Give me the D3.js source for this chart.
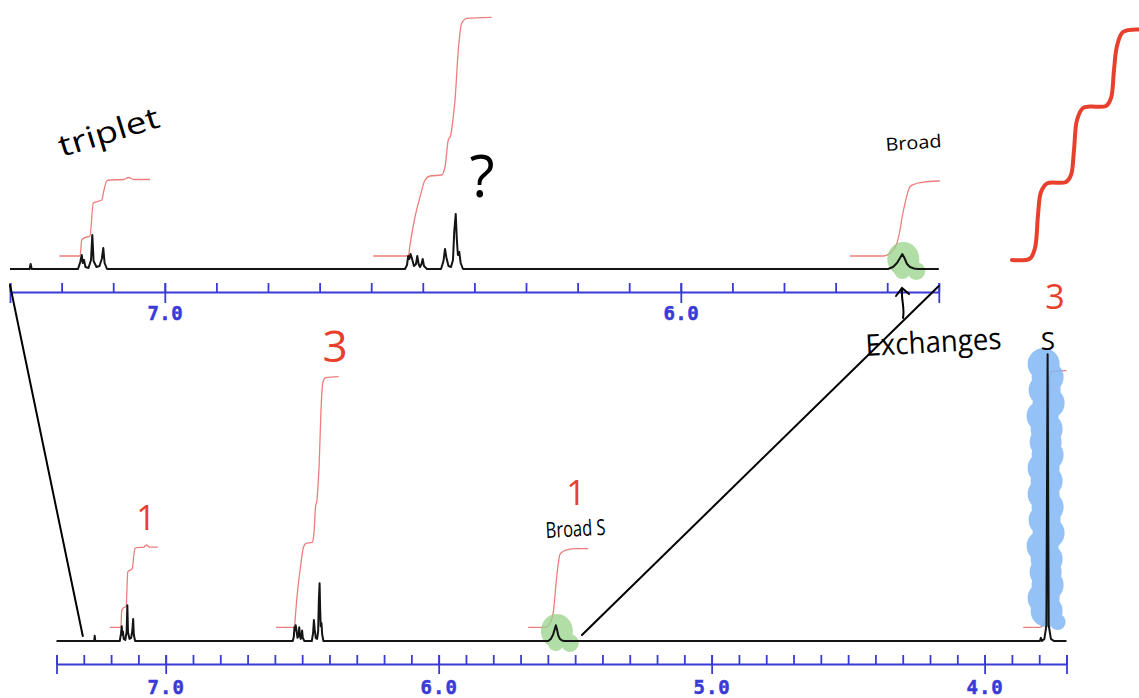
<!DOCTYPE html>
<html>
<head>
<meta charset="utf-8">
<script src="https://cdn.jsdelivr.net/npm/d3@7"></script>
<style>
  html, body { margin: 0; padding: 0; background: #fff; }
  svg { display: block; }
  .hand { font-family: "Open Sans", "Lato", sans-serif; }
</style>
</head>
<body>
<svg id="chart" width="1139" height="698"></svg>
<script>
// ---- 1H NMR trace, [ppm, intensity] ----
const solventPeak = [[7.262, 0], [7.260, 5], [7.258, 0]];
const tripletPeaks = [
  [7.1682, 0], [7.1638, 7], [7.1610, 14], [7.1589, 6], [7.1566, 9], [7.1537, 2],
  [7.1479, 1], [7.1430, 9], [7.1405, 34], [7.1380, 8], [7.1324, 2], [7.1266, 3],
  [7.1221, 10], [7.1192, 21], [7.1167, 6], [7.1120, 0]
];
const multipletA = [
  [6.5345, 0], [6.5306, 4], [6.5283, 13], [6.5262, 10], [6.5238, 15], [6.5213, 11],
  [6.5171, 3], [6.5132, 5], [6.5107, 13], [6.5081, 5], [6.5054, 2], [6.5025, 5],
  [6.5002, 10], [6.4977, 3], [6.4919, 0]
];
const multipletB = [
  [6.4647, 0], [6.4599, 8], [6.4570, 20], [6.4541, 11], [6.4502, 3], [6.4453, 2],
  [6.4415, 9], [6.4390, 38], [6.4362, 55], [6.4341, 30], [6.4320, 14], [6.4293, 17],
  [6.4266, 6], [6.4221, 0]
];
const broadPeak = [
  [5.5984, 0], [5.5888, 2], [5.5810, 6], [5.5752, 11], [5.5707, 15], [5.5665, 11],
  [5.5616, 5], [5.5558, 2], [5.5481, 0.5], [5.5403, 0]
];
const singletPeak = [
  [3.7974, 0], [3.7938, 3], [3.7901, 0], [3.7810, 2], [3.7736, 15], [3.7692, 273],
  [3.7652, 15], [3.7571, 2], [3.7462, 0]
];

// ---- integral curves, [ppm, running integral] ----
const tripletIntegral = [
  [7.2045, 13], [7.1643, 13], [7.1610, 29], [7.1566, 31], [7.1450, 33], [7.1386, 66],
  [7.1333, 67], [7.1223, 69], [7.1178, 79], [7.1126, 88], [7.1062, 89], [7.0800, 89.5],
  [7.0700, 91.5], [7.0600, 89.5], [7.0287, 89.5]
];
const multipletIntegral = [
  [6.5959, 13], [6.5281, 13], [6.5248, 24], [6.5151, 52], [6.5054, 72], [6.4957, 89],
  [6.4860, 93], [6.4634, 94], [6.4570, 102], [6.4506, 129], [6.4463, 133], [6.4415, 150],
  [6.4376, 169], [6.4312, 219], [6.4246, 245.7], [6.4149, 250.7], [6.3665, 251.7]
];
const broadIntegral = [
  [5.6721, 13], [5.6076, 13], [5.5882, 19], [5.5810, 26], [5.5752, 39], [5.5703, 54],
  [5.5655, 65.7], [5.5558, 82.3], [5.5461, 85], [5.5364, 86.3], [5.5010, 88], [5.4520, 88]
];
const singletIntegral = [
  [3.8586, 13], [3.7974, 13], [3.7791, 19], [3.7718, 38], [3.7663, 133], [3.7608, 253],
  [3.7535, 256.5], [3.7425, 257], [3.7000, 257.5]
];

// ---- axis ticks ----
const topMinorTicks = d3.range(55, 74).map(d => d / 10);
const bottomMinorTicks = d3.range(37, 75).map(d => d / 10);
const topTickLabels = [7.0, 6.0];
const bottomTickLabels = [7.0, 6.0, 5.0, 4.0];

const peakRegions = [solventPeak, tripletPeaks, multipletA, multipletB, broadPeak, singletPeak];
const integralRegions = [tripletIntegral, multipletIntegral, broadIntegral, singletIntegral];

const svg = d3.select("#chart");
const AXIS = "#3a3ad6";

// expanded view (7.3 - 5.5 ppm) and full view (7.4 - 3.7 ppm)
const xTop = d3.scaleLinear().domain([7.3, 5.5]).range([10, 938.8]);
const xBot = d3.scaleLinear().domain([7.4, 3.7]).range([56.5, 1066.5]);
const yTop = d3.scaleLinear().domain([0, 100]).range([269, 169]);
const yBot = d3.scaleLinear().domain([0, 100]).range([641, 536]);

const panels = [
  { id: "top", x: xTop, y: yTop, axisY: 292, minor: topMinorTicks, labels: topTickLabels,
    minorLen: 9, majorLen: 20, pad: 4, font: 19, spacing: 0.5 },
  { id: "bot", x: xBot, y: yBot, axisY: 664, minor: bottomMinorTicks, labels: bottomTickLabels,
    minorLen: 9, majorLen: 19, pad: 7, font: 19, spacing: 1 }
];

const defs = svg.append("defs");
panels.forEach(p => {
  const [r0, r1] = p.x.range();
  defs.append("clipPath").attr("id", "clip-" + p.id)
    .append("rect").attr("x", r0 - 1).attr("y", 0).attr("width", r1 - r0 + 2).attr("height", 698);
});

// ---- axes ----
panels.forEach(p => {
  const dom = p.x.domain();
  const minorG = svg.append("g")
    .attr("transform", `translate(0,${p.axisY})`)
    .call(d3.axisTop(p.x).tickValues(p.minor).tickSize(p.minorLen).tickSizeOuter(0).tickFormat(""));
  const majorVals = [dom[0], ...p.labels, dom[1]];
  const majorG = svg.append("g")
    .attr("transform", `translate(0,${p.axisY - p.minorLen})`)
    .call(d3.axisBottom(p.x).tickValues(majorVals).tickSize(p.majorLen).tickPadding(p.pad)
      .tickFormat(d => p.labels.includes(d) ? d3.format(".1f")(d) : ""));
  majorG.select(".domain").remove();
  [minorG, majorG].forEach(g => {
    g.selectAll("path, line").attr("stroke", AXIS).attr("stroke-width", 1.8);
    g.selectAll("text")
      .attr("fill", AXIS)
      .attr("stroke", AXIS)
      .attr("stroke-width", 0.5)
      .attr("font-family", "DejaVu Sans Mono, monospace")
      .attr("font-weight", "bold")
      .attr("font-size", p.font)
      .attr("letter-spacing", p.spacing);
  });
});

// ---- integrals ----
panels.forEach(p => {
  const line = d3.line().x(d => p.x(d[0])).y(d => p.y(d[1])).curve(d3.curveMonotoneX);
  const g = svg.append("g").attr("clip-path", `url(#clip-${p.id})`);
  g.selectAll("path.integral").data(integralRegions).join("path")
    .attr("class", "integral")
    .attr("d", line)
    .attr("fill", "none")
    .attr("stroke", "#ec6f6f")
    .attr("stroke-width", 1.3)
    .attr("stroke-opacity", 0.9);
});

// ---- highlighter marks ----
const greenG = svg.append("g").attr("opacity", 0.75).attr("fill", "#98d38a");
[[xTop, yTop], [xBot, yBot]].forEach(([x, y]) => {
  const cx = x(5.5707), cy = y(0);
  greenG.append("ellipse").attr("cx", cx + 1).attr("cy", cy - 10).attr("rx", 16).attr("ry", 17);
  greenG.append("circle").attr("cx", cx + 14).attr("cy", cy + 2).attr("r", 9);
  greenG.append("circle").attr("cx", cx).attr("cy", cy + 2).attr("r", 8);
});

const blueG = svg.append("g").attr("opacity", 0.85).attr("fill", "#82b8f5");
const sx = xBot(3.7692) - 2;
const wobble = [-2, 2, -1, 3, -3, 1, 0, 2, -2, 1];
d3.range(364, 624, 13).forEach((cy, i) => {
  blueG.append("circle").attr("cx", sx + wobble[i % wobble.length]).attr("cy", cy).attr("r", 16);
});
blueG.append("circle").attr("cx", sx + 12).attr("cy", 622).attr("r", 8);

// ---- spectra ----
panels.forEach(p => {
  const [hi, lo] = p.x.domain();
  const pts = peakRegions.flat().filter(d => d[0] <= hi && d[0] >= lo).sort((a, b) => b[0] - a[0]);
  const trace = [[hi, 0], ...pts, [lo, 0]];
  svg.append("path")
    .datum(trace)
    .attr("d", d3.line().x(d => p.x(d[0])).y(d => p.y(d[1])))
    .attr("fill", "none")
    .attr("stroke", "#141414")
    .attr("stroke-width", 2)
    .attr("stroke-linejoin", "round");
});

// ---- hand-drawn notes ----
const ink = svg.append("g").attr("fill", "none").attr("stroke", "#000")
  .attr("stroke-width", 2).attr("stroke-linecap", "round");
ink.append("line").attr("x1", xTop(7.3)).attr("y1", 285).attr("x2", xBot(7.3) - 1).attr("y2", 636);
ink.append("line").attr("x1", xTop(5.5)).attr("y1", 286).attr("x2", xBot(5.475)).attr("y2", 635);
ink.append("path").attr("d", "M903,318 C905,309 901,299 902,289");
ink.append("path").attr("d", "M896,296 L902,288 L909,294");

// red step sketch in the corner
const stepSketch = [
  [1012, 260], [1030, 258.5], [1035, 248], [1038, 215], [1041, 192], [1047, 183.5],
  [1066, 182], [1071, 175], [1074, 150], [1077, 120], [1083, 108], [1090, 106.5],
  [1106, 106], [1111, 98], [1114, 70], [1117, 46], [1123, 32], [1139, 29.5]
];
svg.append("path")
  .attr("d", d3.line().curve(d3.curveCatmullRom)(stepSketch))
  .attr("fill", "none").attr("stroke", "#e8402c").attr("stroke-width", 4)
  .attr("stroke-linecap", "round").attr("stroke-linejoin", "round");

const RED = "#e8402c";
const notes = [
  { t: "triplet", x: 62, y: 157, size: 30, rot: -17, len: 104, fill: "#000" },
  { t: "?", x: 482, y: 197, size: 58, anchor: "middle", fill: "#000" },
  { t: "Broad", x: 886, y: 151, size: 18, rot: -4, len: 56, fill: "#000" },
  { t: "Exchanges", x: 866, y: 356, size: 30, rot: -3, len: 136, fill: "#000" },
  { t: "Broad S", x: 546, y: 538, size: 22, rot: -3, len: 60, fill: "#000" },
  { t: "3", x: 335, y: 362, size: 44, anchor: "middle", fill: RED },
  { t: "1", x: 146, y: 530, size: 34, anchor: "middle", fill: RED },
  { t: "1", x: 576, y: 505, size: 34, anchor: "middle", fill: RED },
  { t: "3", x: 1055, y: 309, size: 34, anchor: "middle", fill: RED },
  { t: "S", x: 1048, y: 350, size: 26, anchor: "middle", fill: "#000" }
];
notes.forEach(n => {
  const t = svg.append("text")
    .attr("class", "hand")
    .attr("x", n.x).attr("y", n.y)
    .attr("font-size", n.size)
    .attr("fill", n.fill)
    .attr("text-anchor", n.anchor || "start")
    .text(n.t);
  if (n.len) t.attr("textLength", n.len).attr("lengthAdjust", "spacingAndGlyphs");
  if (n.rot) t.attr("transform", `rotate(${n.rot},${n.x},${n.y})`);
});
</script>
</body>
</html>
